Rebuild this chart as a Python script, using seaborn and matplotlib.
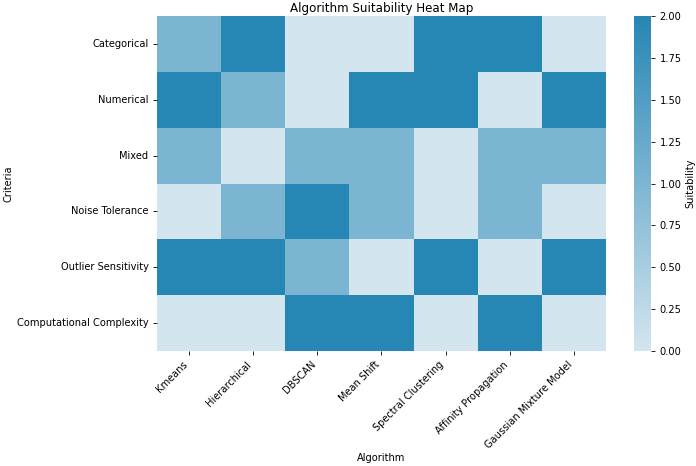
import numpy as np
import pandas as pd
import matplotlib
matplotlib.use('Agg')
import matplotlib.pyplot as plt
import seaborn as sns
from matplotlib.colors import LinearSegmentedColormap

algorithms = ['Kmeans', 'Hierarchical', 'DBSCAN', 'Mean Shift',
              'Spectral Clustering', 'Affinity Propagation', 'Gaussian Mixture Model']
criteria = ['Categorical', 'Numerical', 'Mixed', 'Noise Tolerance',
            'Outlier Sensitivity', 'Computational Complexity']

categorical = [1, 2, 0, 0, 2, 2, 0]
numerical = [2, 1, 0, 2, 2, 0, 2]
mixed = [1, 0, 1, 1, 0, 1, 1]
noise_tolerance = [0, 1, 2, 1, 0, 1, 0]
outlier_sensitivity = [2, 2, 1, 0, 2, 0, 2]
computational_complexity = [0, 0, 2, 2, 0, 2, 0]

df = pd.DataFrame([categorical, numerical, mixed, noise_tolerance,
                   outlier_sensitivity, computational_complexity],
                  index=criteria, columns=algorithms)

# the reference looks like a downscaled render, so shrink text and ticks
plt.rcParams['font.size'] = 7.1
plt.rcParams['xtick.major.size'] = 2.6
plt.rcParams['ytick.major.size'] = 2.6
plt.rcParams['xtick.major.width'] = 0.6
plt.rcParams['ytick.major.width'] = 0.6

# light blue to darker blue
cmap = LinearSegmentedColormap.from_list('suit', ['#d3e5ef', '#2686b4'])

W, H = 696, 466
fig = plt.figure(figsize=(W / 100, H / 100), dpi=100)
ax = fig.add_axes([157 / W, 1 - 351 / H, (606 - 157) / W, (351 - 16) / H])
cax = fig.add_axes([634 / W, 1 - 351 / H, (651 - 634) / W, (351 - 16) / H])

sns.heatmap(df, cmap=cmap, vmin=0, vmax=2, ax=ax, cbar_ax=cax)
cax.set_yticks([0, 0.25, 0.5, 0.75, 1.0, 1.25, 1.5, 1.75, 2.0])
cax.set_yticklabels([f'{v:.2f}' for v in cax.get_yticks()])
cax.set_ylabel('Suitability', labelpad=3)
ax.set_title('Algorithm Suitability Heat Map', fontsize=8.6, pad=3)
ax.set_xlabel('Algorithm')
ax.set_ylabel('Criteria')
ax.yaxis.set_label_coords((8 - 157) / (606 - 157), 0.5)
ax.xaxis.set_label_coords(0.5, -(458 - 351) / (351 - 16))
ax.xaxis.label.set_va('center')
ax.yaxis.label.set_va('center')
plt.setp(ax.get_xticklabels(), rotation=45, ha='right')
plt.setp(ax.get_yticklabels(), rotation=0)
fig.savefig('out.png', dpi=100)
